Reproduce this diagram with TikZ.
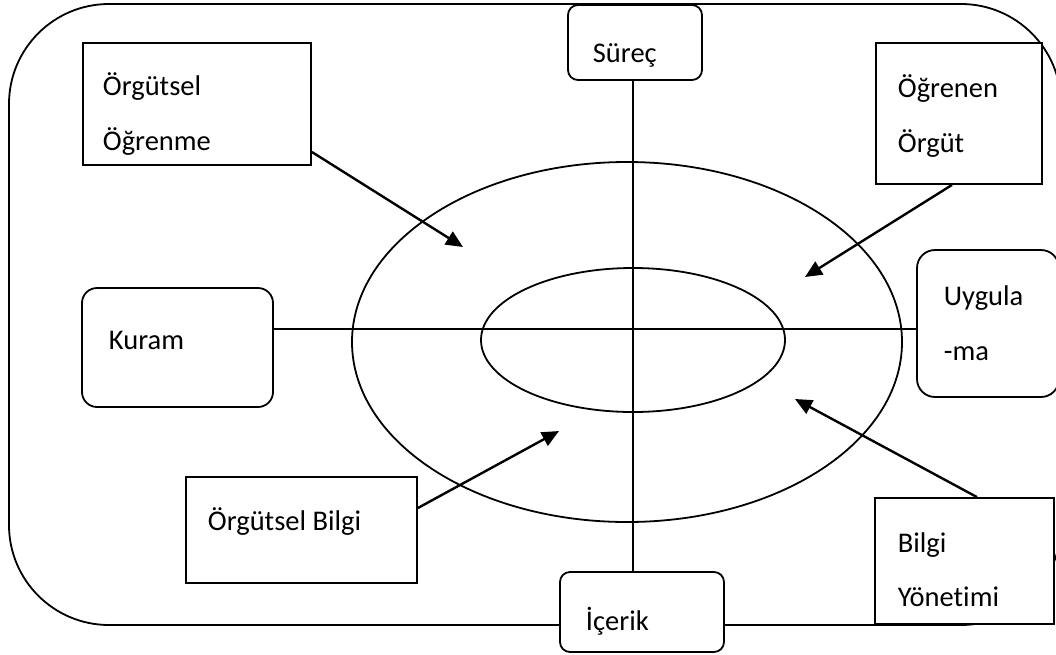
\documentclass[tikz,border=0pt]{standalone}
\usepackage{fontspec}
\setmainfont[Ligatures=NoCommon]{Carlito}
\usetikzlibrary{arrows.meta,shapes.geometric}
\begin{document}
\begin{tikzpicture}[x=1pt,y=-1pt,
  line width=1.8pt,
  sqbox/.style={draw,rectangle,fill=white,inner sep=0pt},
  rbox/.style={draw,rectangle,rounded corners=15pt,fill=white,inner sep=0pt},
  lbl/.style={anchor=base west,inner sep=0pt,font=\fontsize{28.5}{34}\selectfont},
  arr/.style={line width=2.4pt,-{Triangle[length=17pt,width=15pt]}}]
\useasboundingbox (0,0) rectangle (1056,654);
\clip (0,0) rectangle (1056,654);
% outer frame
\draw[rounded corners=100pt] (9,4) rectangle (1061,625);
% ellipses
\node[draw,ellipse,minimum width=550pt,minimum height=360pt,inner sep=0pt] (oe) at (627,342) {};
\node[draw,ellipse,minimum width=304pt,minimum height=144pt,inner sep=0pt] (ie) at (633,340) {};
% boxes
\node[rbox,rounded corners=10pt,minimum width=134pt,minimum height=75pt] (surec) at (635,42.5) {};
\node[rbox,rounded corners=10pt,minimum width=164pt,minimum height=80pt] (icerik) at (642,612) {};
\node[rbox,minimum width=191pt,minimum height=119pt] (kuram) at (177.5,347.5) {};
\node[rbox,rounded corners=18pt,minimum width=142pt,minimum height=147pt] (uyg) at (988,323.5) {};
\node[sqbox,minimum width=228pt,minimum height=122pt] (oo) at (197,104) {};
\node[sqbox,minimum width=166pt,minimum height=141pt] (oro) at (959,113.5) {};
\node[sqbox,minimum width=231pt,minimum height=106pt] (ob) at (301.5,530) {};
\node[sqbox,minimum width=179pt,minimum height=126pt] (by) at (964.5,561) {};
% axes
\draw (surec.south -| 633,0) -- (icerik.north -| 633,0);
\draw (kuram.east |- 0,329) -- (uyg.west |- 0,329);
% arrow targets
\coordinate (t1) at (463,247);
\coordinate (t2) at (805,277);
\coordinate (t3) at (559,431);
\coordinate (t4) at (795,399);
\draw[arr] (oo.south east |- 0,152) -- (t1);
\draw[arr] (oro.south west -| 952,0) -- (t2);
\draw[arr] (ob.east |- 0,508) -- (t3);
\draw[arr] (by.north west -| 977,0) -- (t4);
% texts
\node[lbl] (s-t) at (592,62) {Süreç};
\node[lbl] (i-t) at (585,630) {İçerik};
\node[lbl] (k-t) at (108,349) {Kuram};
\node[lbl] (u-t1) at (943,305) {Uygula};
\node[lbl] (u-t2) at (943,360) {-ma};
\node[lbl] (oo-t1) at (102,95) {Örgütsel};
\node[lbl] (oo-t2) at (102,150) {Öğrenme};
\node[lbl] (oro-t1) at (897,97) {Öğrenen};
\node[lbl] (oro-t2) at (897,152) {Örgüt};
\node[lbl] (ob-t) at (207,530) {Örgütsel Bilgi};
\node[lbl] (by-t1) at (897,552) {Bilgi};
\node[lbl] (by-t2) at (897,606) {Yönetimi};
\end{tikzpicture}
\end{document}
